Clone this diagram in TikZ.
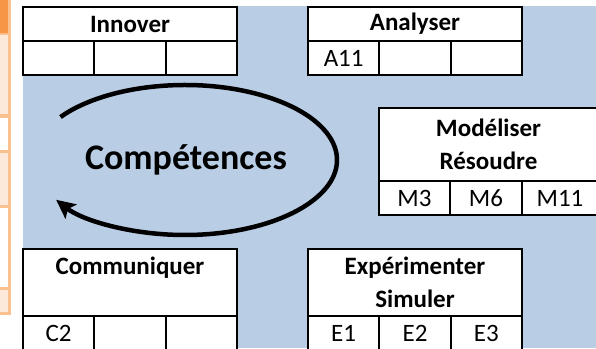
\documentclass[tikz,border=0pt]{standalone}
\usepackage{fontspec}
\setmainfont{Carlito}
\usetikzlibrary{arrows.meta}
\definecolor{fondbleu}{HTML}{B9CDE5}
\definecolor{orangefonce}{HTML}{F79646}
\definecolor{orangeclair}{HTML}{FAC08F}
\definecolor{peche}{HTML}{FDE9D9}
\tikzset{
    titre/.style={draw,fill=white,line width=2pt,inner sep=0pt,outer sep=0pt,
        minimum width=214pt,minimum height=34pt,align=center,anchor=north west,
        font=\bfseries\fontsize{25}{33}\selectfont},
    case/.style={draw,fill=white,line width=2pt,inner sep=0pt,outer sep=0pt,
        minimum width=71.33pt,minimum height=34pt,anchor=north west,
        font=\fontsize{25}{33}\selectfont},
}
\begin{document}
\begin{tikzpicture}[x=1pt,y=-1pt]
        \useasboundingbox (0,0) rectangle (596,348);
        \clip (0,0) rectangle (596,348);

        % bande du tableau de gauche
        \fill[orangeclair] (0,0)   rectangle (11,315);
        \fill[orangefonce] (0,0)   rectangle (8,33);
        \fill[peche]       (0,35)  rectangle (8,114);
        \fill[white]       (0,118) rectangle (8,150);
        \fill[peche]       (0,153) rectangle (8,205);
        \fill[white]       (0,208) rectangle (8,287);
        \fill[peche]       (0,290) rectangle (8,312);

        \fill[fondbleu] (23,6) rectangle (596,348);

        % Innover
        \node[titre] (inn) at (23,7) {Innover};
        \node[case] (inn1) at (inn.south west) {};
        \node[case] (inn2) at (inn1.north east) {};
        \node[case] (inn3) at (inn2.north east) {};

        % Analyser
        \node[titre] (ana) at (308,7) {Analyser};
        \node[case] (ana1) at (ana.south west) {A11};
        \node[case] (ana2) at (ana1.north east) {};
        \node[case] (ana3) at (ana2.north east) {};

        % Modeliser
        \node[titre,minimum width=219pt,minimum height=73pt] (mod) at (379,108) {Modéliser\\Résoudre};
        \node[case,minimum width=71pt] (mod1) at (mod.south west) {M3};
        \node[case,minimum width=72pt] (mod2) at (mod1.north east) {M6};
        \node[case,minimum width=76pt] (mod3) at (mod2.north east) {M11};

        % Communiquer
        \node[titre,minimum height=67pt] (com) at (23,249) {Communiquer\\~};
        \node[case] (com1) at (com.south west) {C2};
        \node[case] (com2) at (com1.north east) {};
        \node[case] (com3) at (com2.north east) {};

        % Experimenter
        \node[titre,minimum height=67pt] (exp) at (308,249) {Expérimenter\\Simuler};
        \node[case] (exp1) at (exp.south west) {E1};
        \node[case] (exp2) at (exp1.north east) {E2};
        \node[case] (exp3) at (exp2.north east) {E3};

        % cycle des competences
        \node[font=\bfseries\fontsize{36}{40}\selectfont,anchor=base] (comp) at (186,169) {Compétences};
        \coordinate (centre) at (185,160);
        \draw[line width=4.5pt,-{Stealth[length=19pt,width=18pt,inset=4pt]}]
            (centre) ++(145:152pt and 75pt)
            arc[start angle=145,end angle=-148,x radius=152pt,y radius=75pt];
    \end{tikzpicture}
\end{document}
